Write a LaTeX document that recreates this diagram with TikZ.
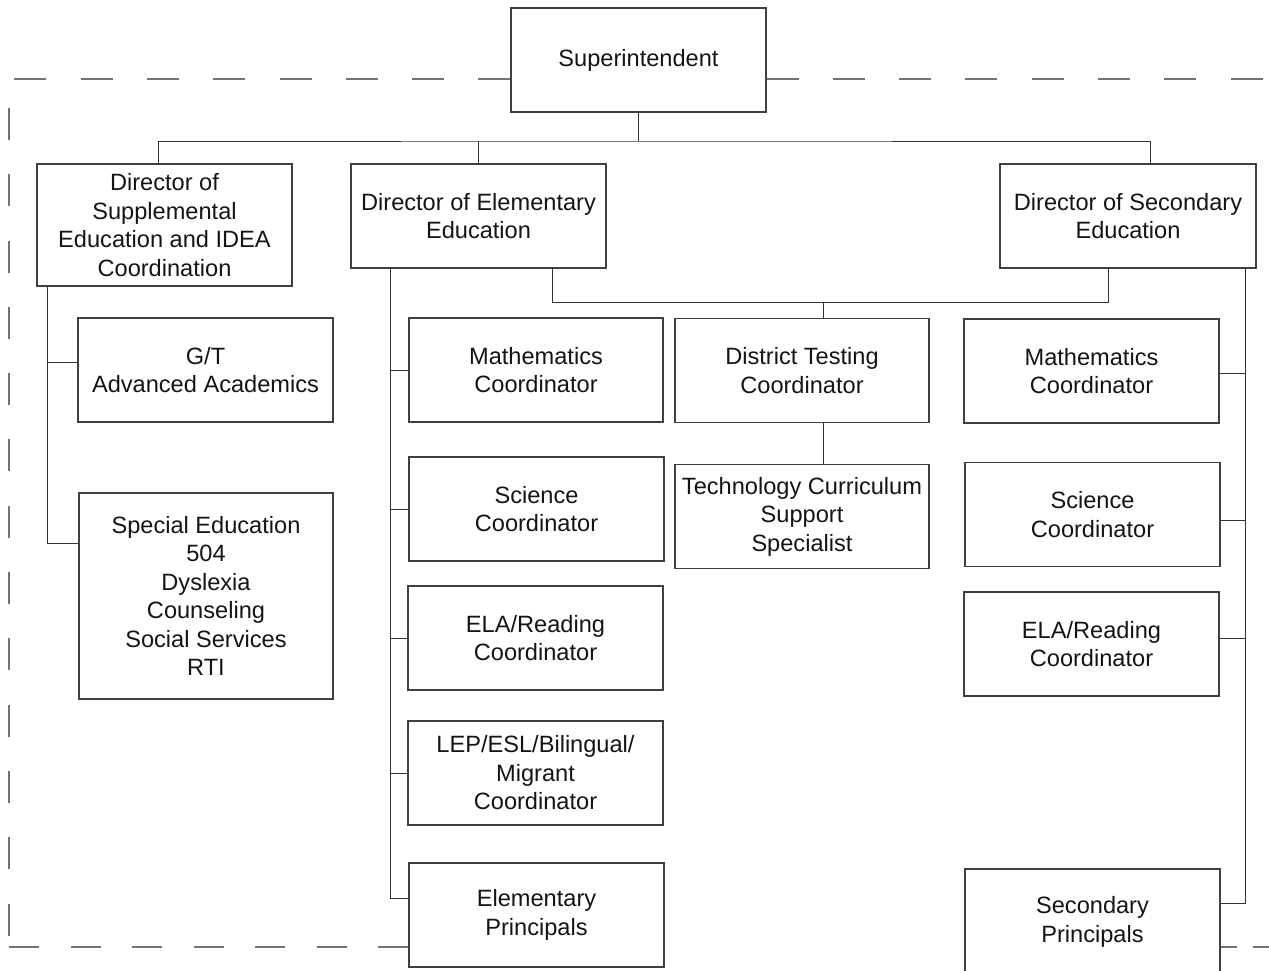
\documentclass[tikz,border=0pt]{standalone}
\usepackage{fontspec}
\setmainfont{Liberation Sans}
\begin{document}
\begin{tikzpicture}[x=1pt,y=-1pt,
  box/.style={draw=black!75,line width=1.1pt,rectangle,inner sep=0pt,
    minimum width=255pt,minimum height=104pt,align=center,text=black!92,
    font=\fontsize{23.6}{28.5}\selectfont},
  link/.style={draw=black!80,line width=1pt},
  frame/.style={draw=black!55,line width=1.1pt,dash pattern=on 32pt off 34.3pt}]
\useasboundingbox (0,0) rectangle (1269,970);
% nodes
\node[box] (sup) at (638.5,60) {Superintendent};
\node[box,minimum height=122pt] (dsup) at (164.5,225) {Director of\\Supplemental\\Education and IDEA\\Coordination};
\node[box] (delem) at (478.5,216) {Director of Elementary\\Education};
\node[box,minimum width=256pt] (dsec) at (1128,216) {Director of Secondary\\Education};
\node[box] (gt) at (205.5,370) {G/T\\Advanced Academics};
\node[box,minimum width=254pt,minimum height=206pt] (sped) at (206,596) {Special Education\\504\\Dyslexia\\Counseling\\Social Services\\RTI};
\node[box,minimum width=254pt] (mathe) at (536,370) {Mathematics\\Coordinator};
\node[box] (scie) at (536.5,509) {Science\\Coordinator};
\node[box] (elae) at (535.5,638) {ELA/Reading\\Coordinator};
\node[box] (lep) at (535.5,773) {LEP/ESL/Bilingual/\\Migrant\\Coordinator};
\node[box] (elpr) at (536.5,915) {Elementary\\Principals};
\node[box,minimum width=254pt] (dtc) at (802,370.5) {District Testing\\Coordinator};
\node[box,minimum width=254pt,minimum height=104pt] (tcss) at (802,516.5) {Technology Curriculum\\Support\\Specialist};
\node[box] (maths) at (1091.5,371) {Mathematics\\Coordinator};
\node[box] (scis) at (1092.5,514.5) {Science\\Coordinator};
\node[box] (elas) at (1091.5,644) {ELA/Reading\\Coordinator};
\node[box,minimum height=106pt] (secpr) at (1092.5,922) {Secondary\\Principals};
% helper coordinates
\coordinate (busy) at (0,141);
\coordinate (midy) at (0,302.5);
\coordinate (sx) at (47,0);
\coordinate (ex) at (390,0);
\coordinate (rx) at (1245,0);
\coordinate (topleft) at (9,79);
\coordinate (botleft) at (9,947);
\coordinate (topright) at (1269,79);
\coordinate (botright) at (1269,947);
% dashed frame
\path[frame] (sup.west |- topleft) -- (topleft) -- (botleft);
\path[frame,dash pattern=on 30pt off 31.5pt] (elpr.west |- botleft) -- (botleft);
\path[frame] (sup.east |- topright) -- (topright);
\path[frame,dash pattern=on 16pt off 16pt] (secpr.east |- botright) -- (botright);
% top bus
\draw[link] (sup.south) -- (sup.south |- busy);
\draw[link] ([xshift=-6.5pt]dsup.north) |- (sup.south |- busy) -| ([xshift=22pt]dsec.north);
\draw[link] (delem.north) -- (delem.north |- busy);
% supplemental spine
\draw[link] (dsup.south -| sx) |- ([yshift=53pt]sped.west);
\draw[link] ([yshift=8pt]gt.west) -- ([yshift=8pt]gt.west -| sx);
% elementary spine
\draw[link] (delem.south -| ex) |- ([yshift=17pt]elpr.west);
\draw[link] (mathe.west) -- (mathe.west -| ex);
\draw[link] (scie.west) -- (scie.west -| ex);
\draw[link] (elae.west) -- (elae.west -| ex);
\draw[link] (lep.west) -- (lep.west -| ex);
% middle link
\draw[link] ([xshift=73.5pt]delem.south) |- (midy -| dtc.north) -| ([xshift=-20pt]dsec.south);
\draw[link] ([xshift=21pt]dtc.north |- midy) -- ([xshift=21pt]dtc.north);
\draw[link] ([xshift=21pt]dtc.south) -- ([xshift=21pt]tcss.north);
% secondary spine
\draw[link] (dsec.south -| rx) |- ([yshift=19pt]secpr.east);
\draw[link] ([yshift=-2pt]maths.east) -- ([yshift=-2pt]maths.east -| rx);
\draw[link] ([yshift=-5.5pt]scis.east) -- ([yshift=-5.5pt]scis.east -| rx);
\draw[link] ([yshift=6pt]elas.east) -- ([yshift=6pt]elas.east -| rx);
\end{tikzpicture}
\end{document}
